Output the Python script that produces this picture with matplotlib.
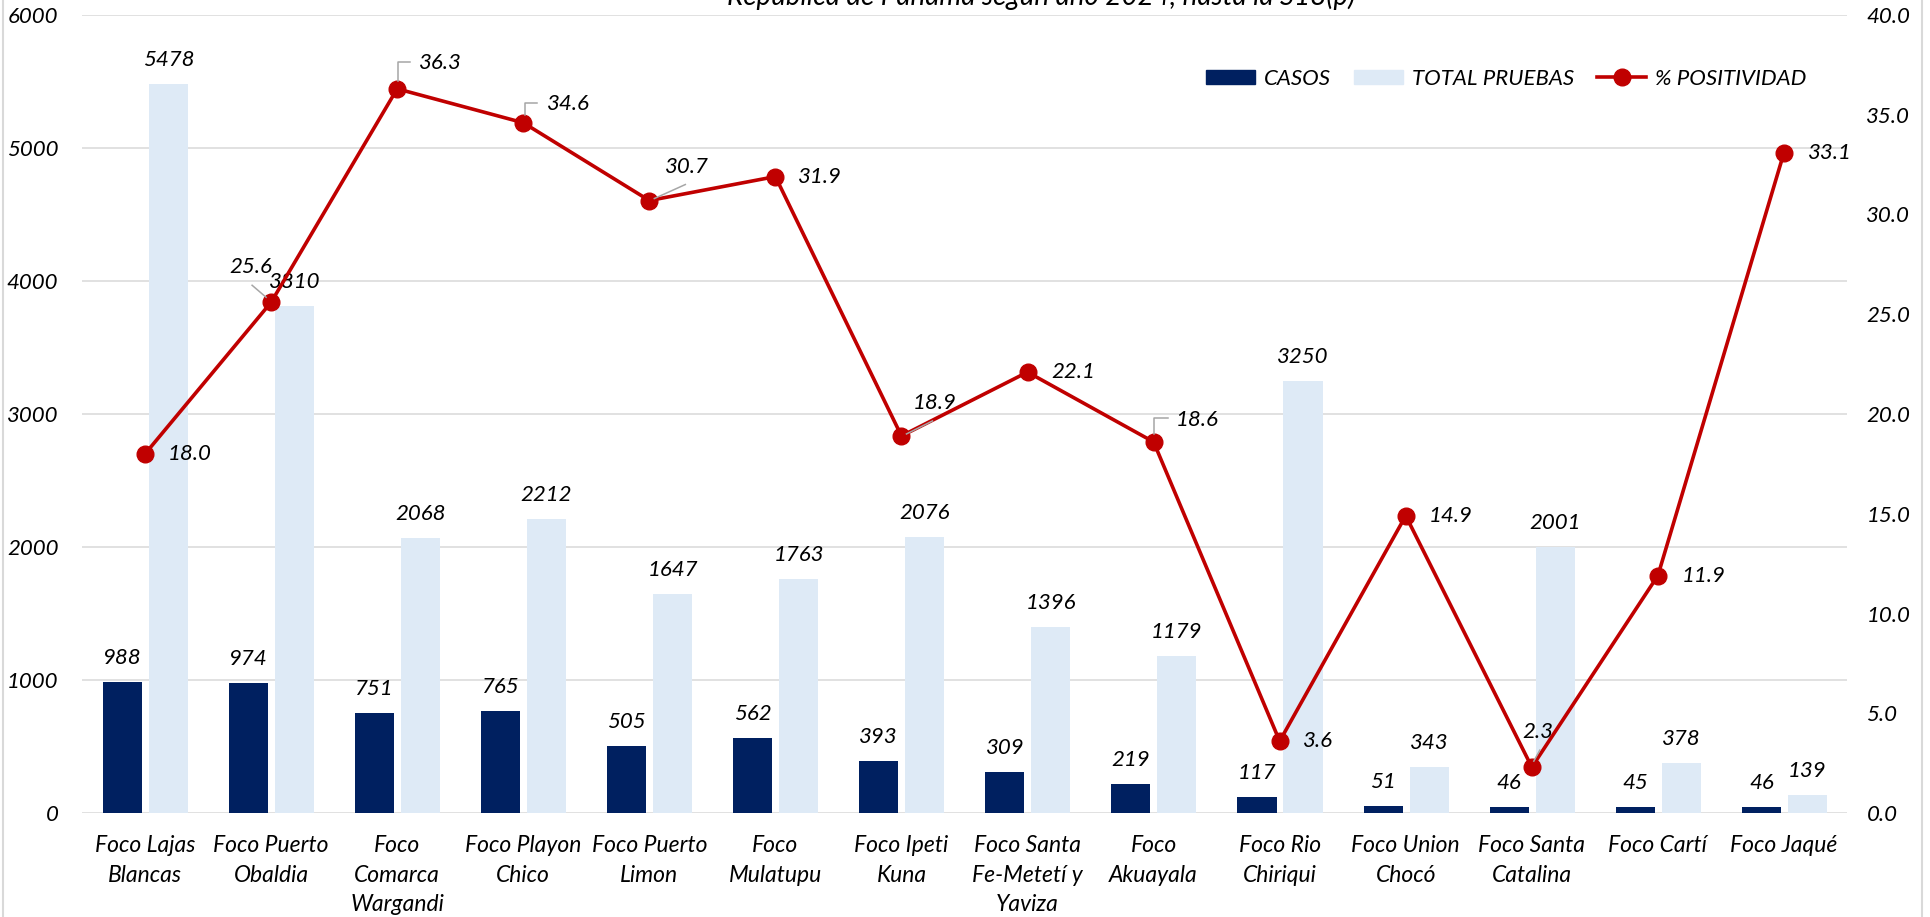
import matplotlib
matplotlib.use("Agg")
import matplotlib.pyplot as plt
from matplotlib.lines import Line2D
from matplotlib.patches import Patch
import numpy as np

plt.rcParams['font.family'] = ['Lato', 'DejaVu Sans']
plt.rcParams['font.style'] = 'italic'
plt.rcParams['font.size'] = 16

focos = ['Foco Lajas\nBlancas', 'Foco Puerto\nObaldia', 'Foco\nComarca\nWargandi',
         'Foco Playon\nChico', 'Foco Puerto\nLimon', 'Foco\nMulatupu', 'Foco Ipeti\nKuna',
         'Foco Santa\nFe-Metetí y\nYaviza', 'Foco\nAkuayala', 'Foco Rio\nChiriqui',
         'Foco Union\nChocó', 'Foco Santa\nCatalina', 'Foco Cartí', 'Foco Jaqué']
casos = [988, 974, 751, 765, 505, 562, 393, 309, 219, 117, 51, 46, 45, 46]
total_pruebas = [5478, 3810, 2068, 2212, 1647, 1763, 2076, 1396, 1179, 3250, 343, 2001, 378, 139]
positividad = [18.0, 25.6, 36.3, 34.6, 30.7, 31.9, 18.9, 22.1, 18.6, 3.6, 14.9, 2.3, 11.9, 33.1]

titulo = 'República de Panamá según año 2024, hasta la S18(p)'

# posicion de las etiquetas de % (pixeles, y hacia abajo) y lineas guia
offs_pct = [(23, 0, 'left'), (1, -35, 'right'), (22, -26, 'left'), (24, -19, 'left'),
            (16, -34, 'left'), (23, 0, 'left'), (11, -33, 'left'), (24, 0, 'left'),
            (22, -22, 'left'), (23, 0, 'left'), (23, 0, 'left'), (6, -35, 'center'),
            (24, 0, 'left'), (24, 0, 'left')]
guias = {1: [(-5, -5), (-19, -17)],
         2: [(1, -8), (1, -27), (13, -27)],
         3: [(2, -8), (2, -20), (14, -20)],
         4: [(5, -2), (36, -16)],
         6: [(5, -2), (31, -15)],
         8: [(0, -8), (0, -24), (14, -24)],
         11: [(2, -6), (8, -17)]}

AZUL = '#002060'
CELESTE = '#DEEAF6'
ROJO = '#C00000'
GRIS = '#D9D9D9'

W, H = 1931, 917
fig = plt.figure(figsize=(W / 100, H / 100), dpi=100)
ax = fig.add_axes([82 / W, 1 - 813 / H, (1847 - 82) / W, (813 - 15) / H])
ax2 = ax.twinx()

x = np.arange(len(focos))
ax.bar(x - 0.18, casos, 0.31, color=AZUL, zorder=2)
ax.bar(x + 0.185, total_pruebas, 0.31, color=CELESTE, zorder=2)
for xi, v in zip(x, casos):
    ax.annotate(str(v), (xi - 0.18, v), xytext=(0, 24), textcoords='offset pixels',
                ha='center', va='center', color='black')
for xi, v in zip(x, total_pruebas):
    ax.annotate(str(v), (xi + 0.185, v), xytext=(0, 24), textcoords='offset pixels',
                ha='center', va='center', color='black')

ax.set_xlim(-0.5, len(focos) - 0.5)
ax.set_ylim(0, 6000)
ax.set_yticks(np.arange(0, 6001, 1000))
ax.yaxis.grid(True, color=GRIS, lw=1.1, zorder=0)
ax.set_axisbelow(True)
ax.set_xticks(x)
ax.set_xticklabels(focos, linespacing=1.5, fontsize=16.5)
ax.tick_params(axis='x', length=0, pad=16)
ax.tick_params(axis='y', length=0, pad=17)

ax2.plot(x, positividad, color=ROJO, lw=2.6, marker='o', ms=12, zorder=3)
ax2.set_ylim(0, 40)
ax2.set_yticks(np.arange(0, 40.1, 5))
ax2.set_yticklabels([f'{t:.1f}' for t in np.arange(0, 40.1, 5)])
ax2.tick_params(axis='y', length=0, pad=14)

for a in (ax, ax2):
    for s in a.spines.values():
        s.set_visible(False)

for i, (xi, v) in enumerate(zip(x, positividad)):
    dx, dy, ha = offs_pct[i]
    ax2.annotate(f'{v:.1f}', (xi, v), xytext=(dx, -dy), textcoords='offset pixels',
                 ha=ha, va='center', color='black')

inv = fig.transFigure.inverted()
for i, pts in guias.items():
    p = ax2.transData.transform((x[i], positividad[i]))
    disp = np.array([[p[0] + px, p[1] - py] for px, py in pts])
    f = inv.transform(disp)
    fig.add_artist(Line2D(f[:, 0], f[:, 1], color='#A6A6A6', lw=1.1, zorder=5))

handles = [Patch(color=AZUL), Patch(color=CELESTE),
           Line2D([], [], color=ROJO, lw=2.6, marker='o', ms=12)]
fig.legend(handles, ['CASOS', 'TOTAL PRUEBAS', '% POSITIVIDAD'], loc='center',
           bbox_to_anchor=(1506 / W, 1 - 79 / H), ncol=3, frameon=False,
           handlelength=2.2, handleheight=0.63, handletextpad=0.4, columnspacing=1.05)

fig.text(1041 / W, 1 - 5 / H, titulo, ha='center', va='baseline', fontsize=20)

for xb in (3, 1922):
    fig.add_artist(Line2D([xb / W, xb / W], [0, 1], color=GRIS, lw=1.5))

fig.savefig('out.png', dpi=100)
